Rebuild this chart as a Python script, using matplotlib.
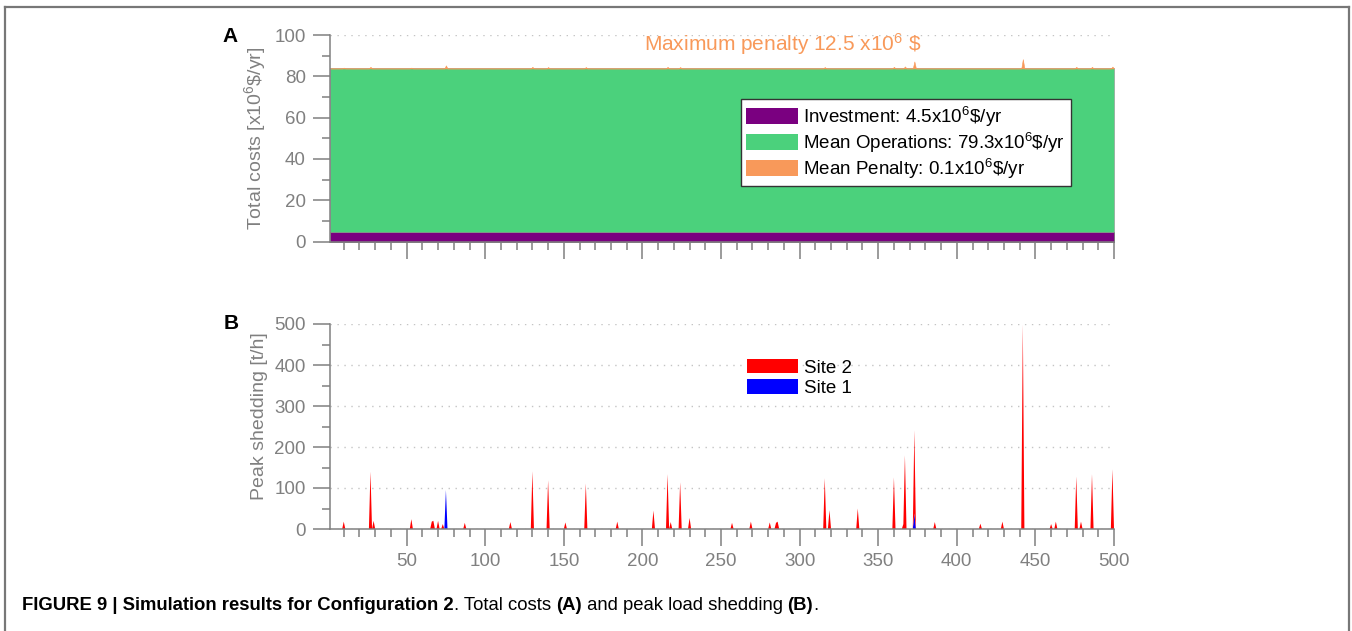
import matplotlib

matplotlib.use("Agg")

import matplotlib.pyplot as plt
import numpy as np
from matplotlib.lines import Line2D
from matplotlib.patches import Patch
from matplotlib.ticker import MultipleLocator

plt.rcParams["font.family"] = ["Liberation Sans", "DejaVu Sans"]
plt.rcParams["mathtext.default"] = "regular"

# ---- data -----------------------------------------------------------
scenarios = np.arange(1, 501)

investment_cost = 4.5      # 10^6 $/yr, same for every scenario
operations_cost = 79.3     # 10^6 $/yr, mean operations

# penalty spikes (scenario, 10^6 $/yr)
penalty_at = [10, 27, 53, 75, 130, 140, 164, 216, 224, 316, 360, 367, 373, 442, 476, 486, 499]
penalty_val = [0.4, 0.8, 0.4, 1.5, 0.8, 0.7, 0.7, 0.8, 0.7, 0.7, 0.8, 1.0, 3.4, 4.5, 0.8, 0.8, 0.9]

# load shedding spikes (scenario, t/h)
site2_at = [10, 27, 29, 53, 66, 67, 70, 73, 87, 116, 130, 140, 151, 164, 184, 207,
            216, 218, 224, 230, 257, 269, 281, 285, 286, 316, 319, 337, 360, 366,
            367, 373, 386, 415, 429, 442, 460, 463, 476, 479, 486, 499]
site2_val = [18, 140, 20, 24, 18, 20, 20, 12, 15, 17, 141, 119, 16, 111, 18, 45,
             134, 17, 114, 27, 15, 18, 16, 15, 18, 124, 46, 50, 126, 12,
             180, 203, 17, 13, 18, 500, 12, 18, 128, 18, 134, 146]
site1_at = [75, 373]
site1_val = [95, 38]

xticks = [50, 100, 150, 200, 250, 300, 350, 400, 450, 500]

legend_a = [r"Investment: 4.5x10$^{6}$\$/yr",
            r"Mean Operations: 79.3x10$^{6}$\$/yr",
            r"Mean Penalty: 0.1x10$^{6}$\$/yr"]
legend_b = ["Site 2", "Site 1"]


def spikes(at, val):
    series = np.zeros(len(scenarios))
    series[np.array(at) - 1] = val
    return series


investment = np.full(len(scenarios), investment_cost)
operations = np.full(len(scenarios), operations_cost)
penalty = spikes(penalty_at, penalty_val)
site2 = spikes(site2_at, site2_val)
site1 = spikes(site1_at, site1_val)

# ---- style ----------------------------------------------------------
PURPLE = "#7a0080"
GREEN = "#4bd17c"
ORANGE = "#f8995a"
GREY = "#808080"

W, H = 1352, 631
fig = plt.figure(figsize=(W / 100, H / 100), dpi=100)

left = 329.6 / W
width = (1114 - 329.6) / W
ax_a = fig.add_axes([left, 1 - 241.5 / H, width, 206.5 / H])
ax_b = fig.add_axes([left, 1 - 529 / H, width, 205 / H])


def style(ax):
    for side in ("top", "right"):
        ax.spines[side].set_visible(False)
    for side in ("left", "bottom"):
        ax.spines[side].set_color(GREY)
        ax.spines[side].set_linewidth(1.1)
    ax.tick_params(which="major", direction="out", length=12, width=1.1,
                   color=GREY, labelcolor=GREY, labelsize=13.5, pad=5)
    ax.tick_params(which="minor", direction="out", length=5.5, width=1.1, color=GREY)
    ax.xaxis.set_major_locator(MultipleLocator(50))
    ax.xaxis.set_minor_locator(MultipleLocator(10))
    ax.set_xlim(1, 500)
    ax.set_axisbelow(True)
    ax.yaxis.grid(True, which="major", ls=(0, (1, 4)), color="#c4c4c4", lw=1)


# ---- panel A: total costs ---------------------------------------------
style(ax_a)
base = np.zeros(len(scenarios))
for values, colour, edge, lw in ((investment, PURPLE, "#707070", 0.6),
                                 (operations, GREEN, "#909090", 0.4),
                                 (penalty, ORANGE, ORANGE, 0.4)):
    ax_a.fill_between(scenarios, base, base + values, facecolor=colour,
                      edgecolor=edge, linewidth=lw)
    base = base + values

ax_a.set_ylim(0, 100)
ax_a.yaxis.set_major_locator(MultipleLocator(20))
ax_a.yaxis.set_minor_locator(MultipleLocator(10))
ax_a.tick_params(axis="x", labelbottom=False)
ax_a.set_ylabel(r"Total costs [x10$^{6}$\$/yr]", color=GREY, fontsize=14)
ax_a.yaxis.set_label_coords(-0.079, 0.5)

ax_a.legend([Patch(facecolor=c) for c in (PURPLE, GREEN, ORANGE)], legend_a,
            loc="upper left", bbox_to_anchor=(0.524, 0.69), fontsize=13.5,
            handlelength=2.75, handleheight=0.95, handletextpad=0.3,
            labelspacing=0.1, borderpad=0.3, borderaxespad=0, fancybox=False,
            framealpha=1, edgecolor="#333333")

fig.text(783 / W, 1 - 44 / H, r"Maximum penalty 12.5 x10$^{6}$ \$", color=ORANGE,
         fontsize=15, ha="center", va="center")

# ---- panel B: peak shedding -------------------------------------------
style(ax_b)
ax_b.stackplot(scenarios, site1, site2, colors=["#0000ff", "#ff0000"], linewidth=0)
ax_b.set_ylim(0, 500)
ax_b.yaxis.set_major_locator(MultipleLocator(100))
ax_b.yaxis.set_minor_locator(MultipleLocator(50))
ax_b.set_xticks(xticks)
ax_b.set_ylabel("Peak shedding [t/h]", color=GREY, fontsize=14)
ax_b.yaxis.set_label_coords(-0.079, 0.55)

ax_b.legend([Patch(facecolor="#ff0000"), Patch(facecolor="#0000ff")], legend_b,
            loc="upper left", bbox_to_anchor=(0.532, 0.83), fontsize=13.5,
            handlelength=2.75, handleheight=0.8, handletextpad=0.3,
            labelspacing=0.15, borderpad=0, borderaxespad=0, frameon=False)

# ---- panel letters, frame, caption -------------------------------------
fig.text(230 / W, 1 - 36 / H, "A", fontsize=15, weight="bold", ha="center", va="center")
fig.text(231 / W, 1 - 324 / H, "B", fontsize=15, weight="bold", ha="center", va="center")

frame = dict(transform=fig.transFigure, color="#777777", lw=1.6)
fig.add_artist(Line2D([4.5 / W, 4.5 / W], [0, 1 - 6.5 / H], **frame))
fig.add_artist(Line2D([4.5 / W, 1348.5 / W], [1 - 6.5 / H, 1 - 6.5 / H], **frame))
fig.add_artist(Line2D([1348.5 / W, 1348.5 / W], [0, 1 - 6.5 / H], **frame))

caption = [("FIGURE 9 | Simulation results for Configuration 2", "bold"),
           (". Total costs ", "normal"), ("(A)", "bold"),
           (" and peak load shedding ", "normal"), ("(B)", "bold"), (".", "normal")]
renderer = fig.canvas.get_renderer()
x = 22
for piece, weight in caption:
    t = fig.text(x / W, 1 - 610 / H, piece, fontsize=13.3, weight=weight,
                 family=["Liberation Sans Narrow", "Liberation Sans"],
                 ha="left", va="baseline")
    x += t.get_window_extent(renderer).width

fig.savefig("out.png", dpi=100)
plt.close(fig)
